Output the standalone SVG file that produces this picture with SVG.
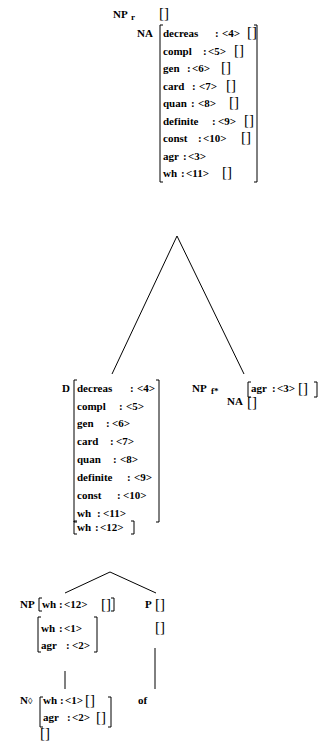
<svg xmlns="http://www.w3.org/2000/svg" width="320" height="747" viewBox="0 0 320 747">
<style>
text{font-family:"Liberation Serif","Times New Roman",serif;font-weight:bold;font-size:11px;fill:#000}
text.sub{font-size:9px}
text.br{font-weight:normal;font-size:15px}
.brk{fill:none;stroke:#000;stroke-width:1}
.edge{fill:none;stroke:#000;stroke-width:1}
</style>
<rect width="320" height="747" fill="#fff"/>
<g id="connectors">
<path class="edge" d="M112,374 L177,236 L244,374"/>
<path class="edge" d="M65,593 L110,572 L156,593"/>
<path class="edge" d="M65,671 V689"/>
<path class="edge" d="M155,648 V689"/>
</g>
<g id="node-NPr">
<text x="113" y="18">NP</text><text class="sub" x="131" y="20">r</text>
<text class="br" x="159" y="18">[]</text>
<text x="137" y="37">NA</text>
<path class="brk" d="M163,25 H160 V182 H163"/>
<path class="brk" d="M254,25 H257 V182 H254"/>
<text x="163" y="37">decreas<tspan x="215">:</tspan><tspan x="222">&lt;4&gt;</tspan></text><text class="br" x="247" y="37">[]</text>
<text x="163" y="55">compl<tspan x="203">:</tspan><tspan x="208">&lt;5&gt;</tspan></text><text class="br" x="234" y="55">[]</text>
<text x="163" y="72">gen<tspan x="187">:</tspan><tspan x="192">&lt;6&gt;</tspan></text><text class="br" x="221" y="72">[]</text>
<text x="163" y="90">card<tspan x="192">:</tspan><tspan x="199">&lt;7&gt;</tspan></text><text class="br" x="226" y="90">[]</text>
<text x="163" y="107">quan<tspan x="191">:</tspan><tspan x="198">&lt;8&gt;</tspan></text><text class="br" x="229" y="107">[]</text>
<text x="163" y="125">definite<tspan x="212">:</tspan><tspan x="218">&lt;9&gt;</tspan></text><text class="br" x="244" y="125">[]</text>
<text x="163" y="142">const<tspan x="198">:</tspan><tspan x="203">&lt;10&gt;</tspan></text><text class="br" x="241" y="142">[]</text>
<text x="163" y="160">agr<tspan x="183">:</tspan><tspan x="188">&lt;3&gt;</tspan></text>
<text x="163" y="177">wh<tspan x="181">:</tspan><tspan x="186">&lt;11&gt;</tspan></text><text class="br" x="222" y="177">[]</text>
</g>
<g id="node-D">
<text x="62" y="392">D</text>
<path class="brk" d="M77,380 H74 V522 H77"/>
<path class="brk" d="M156,380 H159 V522 H156"/>
<text x="77" y="392">decreas<tspan x="130">:</tspan><tspan x="137">&lt;4&gt;</tspan></text>
<text x="77" y="410">compl<tspan x="119">:</tspan><tspan x="126">&lt;5&gt;</tspan></text>
<text x="77" y="427">gen<tspan x="106">:</tspan><tspan x="112">&lt;6&gt;</tspan></text>
<text x="77" y="445">card<tspan x="110">:</tspan><tspan x="116">&lt;7&gt;</tspan></text>
<text x="77" y="463">quan<tspan x="113">:</tspan><tspan x="120">&lt;8&gt;</tspan></text>
<text x="77" y="481">definite<tspan x="127">:</tspan><tspan x="134">&lt;9&gt;</tspan></text>
<text x="77" y="499">const<tspan x="117">:</tspan><tspan x="123">&lt;10&gt;</tspan></text>
<text x="77" y="517">wh<tspan x="97">:</tspan><tspan x="103">&lt;11&gt;</tspan></text>
<path class="brk" d="M77,521 H74 V534 H77"/>
<path class="brk" d="M131,521 H134 V534 H131"/>
<text x="77" y="531">wh<tspan x="95">:</tspan><tspan x="100">&lt;12&gt;</tspan></text>
</g>
<g id="node-NPf">
<text x="192" y="392">NP</text><text class="sub" x="211" y="394">f*</text>
<path class="brk" d="M251,382 H248 V397 H251"/>
<path class="brk" d="M314,382 H317 V397 H314"/>
<text x="251" y="392">agr<tspan x="272">:</tspan><tspan x="277">&lt;3&gt;</tspan></text><text class="br" x="298" y="393">[]</text>
<text x="227" y="405">NA</text><text class="br" x="247" y="407">[]</text>
</g>
<g id="node-NP">
<text x="20" y="608">NP</text>
<path class="brk" d="M42,598 H39 V611 H42"/>
<path class="brk" d="M111,598 H114 V611 H111"/>
<text x="42" y="608">wh<tspan x="59">:</tspan><tspan x="64">&lt;12&gt;</tspan></text><text class="br" x="101" y="609">[]</text>
<path class="brk" d="M41,617 H38 V652 H41"/>
<path class="brk" d="M94,617 H97 V652 H94"/>
<text x="41" y="632">wh<tspan x="59">:</tspan><tspan x="64">&lt;1&gt;</tspan></text>
<text x="41" y="649">agr<tspan x="66">:</tspan><tspan x="72">&lt;2&gt;</tspan></text>
</g>
<g id="node-P">
<text x="145" y="608">P</text><text class="br" x="155" y="609">[]</text>
<text class="br" x="155" y="632">[]</text>
</g>
<g id="node-N">
<text x="20" y="704">N<tspan font-weight="normal" font-size="9px">◊</tspan></text>
<path class="brk" d="M43,697 H40 V727 H43"/>
<path class="brk" d="M108,697 H111 V727 H108"/>
<text x="43" y="704">wh<tspan x="60">:</tspan><tspan x="65">&lt;1&gt;</tspan></text><text class="br" x="85" y="705">[]</text>
<text x="43" y="721">agr<tspan x="67">:</tspan><tspan x="72">&lt;2&gt;</tspan></text><text class="br" x="96" y="722">[]</text>
<text class="br" x="40" y="738">[]</text>
</g>
<g id="node-of">
<text x="138" y="704">of</text>
</g>
</svg>
